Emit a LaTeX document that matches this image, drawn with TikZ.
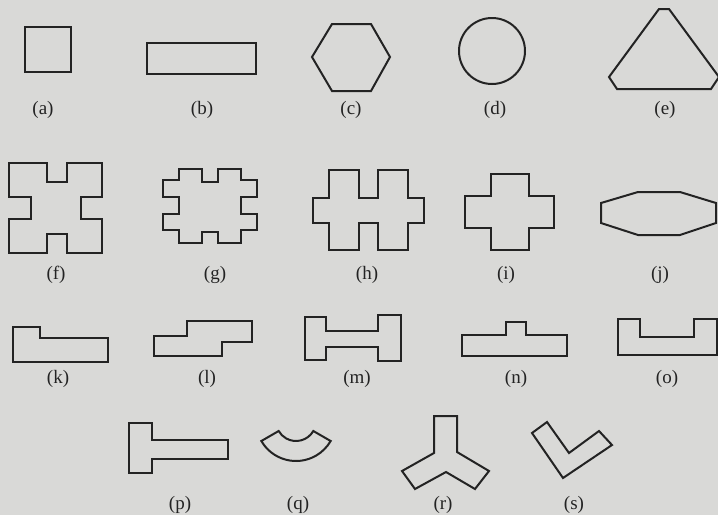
\documentclass[tikz,border=0pt]{standalone}
\usepackage{fontspec}
\setmainfont{Liberation Serif}
\definecolor{paper}{RGB}{217,217,215}
\definecolor{ink}{RGB}{35,35,35}
\begin{document}
\begin{tikzpicture}[x=1pt,y=-1pt,
  outline/.style={draw=ink,line width=2pt,line join=miter},
  figlabel/.style={text=ink,font=\fontsize{19}{19}\selectfont,anchor=base,inner sep=0pt}]
\fill[paper] (0,0) rectangle (718,515);
\useasboundingbox (0,0) rectangle (718,515);
% row 1
\draw[outline] (25,27) rectangle (71,72);
\draw[outline] (147,43) rectangle (256,74);
\draw[outline] (312,57) -- (332,24) -- (371,24) -- (390,57) -- (371,91) -- (332,91) -- cycle;
\draw[outline] (492,51) circle[radius=33pt];
\draw[outline] (609,77) -- (659,9) -- (669,9) -- (719,77) -- (711,89) -- (617,89) -- cycle;
\node[figlabel] (la) at (43,114) {(a)};
\node[figlabel] (lb) at (202,114) {(b)};
\node[figlabel] (lc) at (351,114) {(c)};
\node[figlabel] (ld) at (495,114) {(d)};
\node[figlabel] (le) at (665,114) {(e)};
% row 2
\draw[outline] (9,163) -- (47,163) -- (47,182) -- (67,182) -- (67,163) -- (102,163) -- (102,197) -- (81,197) -- (81,219) -- (102,219) -- (102,253) -- (67,253) -- (67,234) -- (47,234) -- (47,253) -- (9,253) -- (9,219) -- (31,219) -- (31,197) -- (9,197) -- cycle;
\draw[outline] (179,169) -- (202,169) -- (202,182) -- (218,182) -- (218,169) -- (241,169) -- (241,180) -- (257,180) -- (257,197) -- (241,197) -- (241,214) -- (257,214) -- (257,230) -- (241,230) -- (241,243) -- (218,243) -- (218,232) -- (202,232) -- (202,243) -- (179,243) -- (179,230) -- (163,230) -- (163,214) -- (179,214) -- (179,197) -- (163,197) -- (163,180) -- (179,180) -- cycle;
\draw[outline] (329,170) -- (359,170) -- (359,198) -- (378,198) -- (378,170) -- (408,170) -- (408,198) -- (424,198) -- (424,223) -- (408,223) -- (408,250) -- (378,250) -- (378,223) -- (359,223) -- (359,250) -- (329,250) -- (329,223) -- (313,223) -- (313,198) -- (329,198) -- cycle;
\draw[outline] (491,174) -- (529,174) -- (529,196) -- (554,196) -- (554,228) -- (529,228) -- (529,250) -- (491,250) -- (491,228) -- (465,228) -- (465,196) -- (491,196) -- cycle;
\draw[outline] (601,203) -- (638,192) -- (680,192) -- (716,203) -- (716,223) -- (680,235) -- (638,235) -- (601,223) -- cycle;
\node[figlabel] (lf) at (56,279) {(f)};
\node[figlabel] (lg) at (215,279) {(g)};
\node[figlabel] (lh) at (367,279) {(h)};
\node[figlabel] (li) at (506,279) {(i)};
\node[figlabel] (lj) at (660,279) {(j)};
% row 3
\draw[outline] (13,327) -- (40,327) -- (40,338) -- (108,338) -- (108,362) -- (13,362) -- cycle;
\draw[outline] (154,336) -- (187,336) -- (187,321) -- (252,321) -- (252,342) -- (222,342) -- (222,356) -- (154,356) -- cycle;
\draw[outline] (305,317) -- (326,317) -- (326,331) -- (378,331) -- (378,315) -- (401,315) -- (401,361) -- (378,361) -- (378,347) -- (326,347) -- (326,360) -- (305,360) -- cycle;
\draw[outline] (462,335) -- (506,335) -- (506,322) -- (526,322) -- (526,335) -- (567,335) -- (567,356) -- (462,356) -- cycle;
\draw[outline] (618,319) -- (640,319) -- (640,337) -- (694,337) -- (694,319) -- (717,319) -- (717,355) -- (618,355) -- cycle;
\node[figlabel] (lk) at (58,383) {(k)};
\node[figlabel] (ll) at (207,383) {(l)};
\node[figlabel] (lm) at (357,383) {(m)};
\node[figlabel] (ln) at (516,383) {(n)};
\node[figlabel] (lo) at (667,383) {(o)};
% row 4
\draw[outline] (129,423) -- (152,423) -- (152,440) -- (228,440) -- (228,459) -- (152,459) -- (152,473) -- (129,473) -- cycle;
\draw[outline,shift={(296,421)}] (-150:40pt) arc[start angle=-150,end angle=-30,radius=40pt] -- (-30:20pt) arc[start angle=-30,end angle=-150,radius=20pt] -- cycle;
\draw[outline] (434,416) -- (457,416) -- (457,452) -- (489,471) -- (475,489) -- (446,472) -- (415,489) -- (402,471) -- (434,453) -- cycle;
\draw[outline] (532,433) -- (547,422) -- (569,453) -- (599,431) -- (612,445) -- (563,478) -- cycle;
\node[figlabel] (lp) at (180,509) {(p)};
\node[figlabel] (lq) at (298,509) {(q)};
\node[figlabel] (lr) at (443,509) {(r)};
\node[figlabel] (ls) at (574,509) {(s)};
\end{tikzpicture}
\end{document}
